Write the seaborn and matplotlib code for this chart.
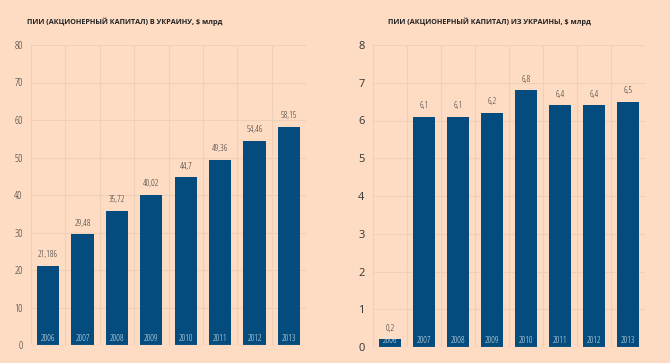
import numpy as np
import pandas as pd
import seaborn as sns
from matplotlib import pyplot as plt

years = ["2006", "2007", "2008", "2009", "2010", "2011", "2012", "2013"]
fdi_in = [21.186, 29.48, 35.72, 40.02, 44.7, 49.36, 54.46, 58.15]
fdi_in_labels = ["21,186", "29,48", "35,72", "40,02", "44,7", "49,36", "54,46", "58,15"]
fdi_out = [0.2, 6.1, 6.1, 6.2, 6.8, 6.4, 6.4, 6.5]
fdi_out_labels = ["0,2", "6,1", "6,1", "6,2", "6,8", "6,4", "6,4", "6,5"]

bg = "#fddcc3"
bar_color = "#034c7d"
grid_color = "#efcfb6"
text_color = "#333333"

sns.set_theme(style="white")
plt.rcParams['font.family'] = ['Open Sans', 'DejaVu Sans']
plt.rcParams['font.stretch'] = 'condensed'

fig = plt.figure(figsize=(6.7, 3.63), dpi=100, facecolor=bg)
ax1 = fig.add_axes([31 / 670, 1 - 345 / 363, 275 / 670, 300 / 363])
ax2 = fig.add_axes([373 / 670, 1 - 347 / 363, 272 / 670, 302 / 363])


def draw(ax, vals, labels, ymax, step, title, tick_size, tick_stretch, title_x):
    df = pd.DataFrame({"year": years, "value": vals})
    ax.set_facecolor(bg)
    sns.barplot(data=df, x="year", y="value", color=bar_color, width=0.65,
                saturation=1, linewidth=0, ax=ax, zorder=3)
    ax.set_xlim(-0.5, len(years) - 0.5)
    ax.set_ylim(0, ymax)
    ax.set_yticks(np.arange(0, ymax + step / 2, step))
    ax.set_xticks(np.arange(-0.5, len(years), 1), minor=True)
    ax.grid(True, which="minor", axis="x", color=grid_color, lw=0.8, zorder=0)
    ax.grid(True, which="major", axis="y", color=grid_color, lw=0.8, zorder=0)
    ax.set_xticks([])
    ax.set_xlabel("")
    ax.set_ylabel("")
    ax.tick_params(axis="y", length=0, labelsize=tick_size, colors=text_color, pad=6)
    for t in ax.get_yticklabels():
        t.set_fontstretch(tick_stretch)
    for s in ax.spines.values():
        s.set_visible(False)
    ax.axhline(0, color="#d9bfa8", lw=0.8, zorder=4)
    for i, (v, lab) in enumerate(zip(vals, labels)):
        ax.text(i, v + ymax * 0.022, lab, ha="center", va="bottom",
                fontsize=6.5, color=text_color)
        ax.text(i, ymax * 0.006, years[i], ha="center", va="bottom",
                fontsize=6.5, color="#dce8f2", zorder=5)
    fig.text(title_x, 1 - 22 / 363, title, ha="left", va="center",
             fontsize=5.2, fontweight="bold", color="#222222")


draw(ax1, fdi_in, fdi_in_labels, 80, 10,
     "ПИИ (АКЦИОНЕРНЫЙ КАПИТАЛ) В УКРАИНУ, $ млрд", 7.5, "condensed", 27 / 670)
draw(ax2, fdi_out, fdi_out_labels, 8, 1,
     "ПИИ (АКЦИОНЕРНЫЙ КАПИТАЛ) ИЗ УКРАИНЫ, $ млрд", 8, "normal", 388 / 670)

fig.savefig("out.png", dpi=100, facecolor=bg)
